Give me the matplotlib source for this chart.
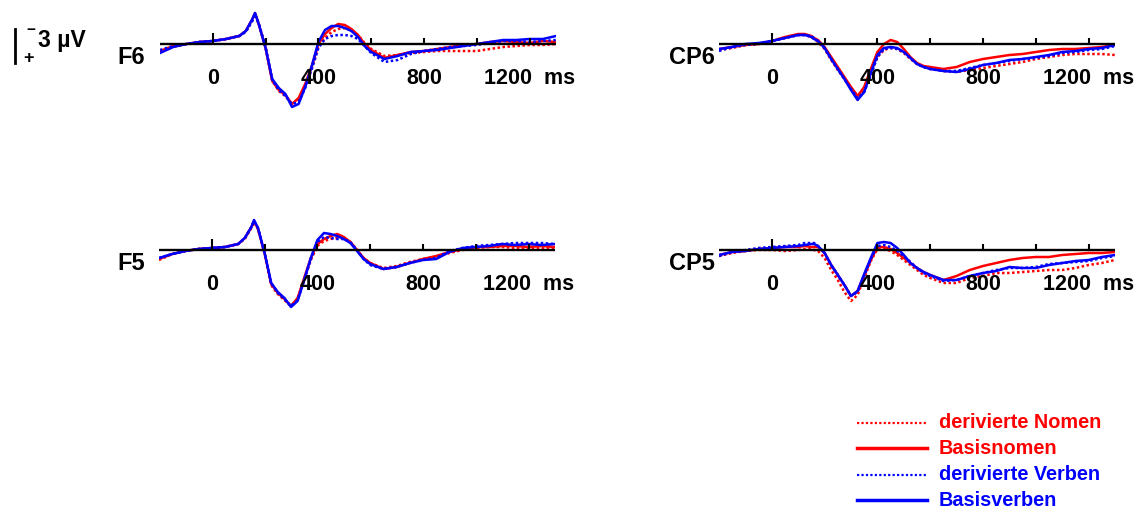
import matplotlib.pyplot as plt
from matplotlib.lines import Line2D

plt.rcParams['font.family'] = ['Liberation Sans', 'DejaVu Sans']

# time grid (ms)
times = [-200, -150, -100, -50, 0, 50, 100, 125, 150, 160, 175, 200, 225, 250, 275,
         300, 325, 350, 375, 400, 425, 450, 475, 500, 525, 550, 575, 600, 650, 700,
         750, 800, 850, 900, 950, 1000, 1050, 1100, 1150, 1200, 1250, 1300]

# amplitudes in microvolts (negative plotted up)
f6_basisnomen = [0.7, 0.2, 0.0, -0.2, -0.3, -0.5, -0.8, -1.3, -2.5, -3.1, -1.9, 0.4, 3.7, 4.6, 5.1,
                 6.0, 5.4, 4.0, 2.2, 0.0, -1.0, -1.6, -2.0, -1.9, -1.5, -0.9, 0.0, 0.6, 1.4, 1.1,
                 0.8, 0.7, 0.5, 0.3, 0.1, 0.0, -0.2, -0.3, -0.2, -0.1, -0.3, -0.2]
f6_der_nomen = [0.8, 0.3, 0.0, -0.2, -0.3, -0.5, -0.8, -1.3, -2.4, -3.0, -1.9, 0.4, 3.6, 4.7, 5.2,
                6.0, 5.6, 4.2, 2.4, 0.3, -0.6, -1.2, -1.5, -1.6, -1.4, -0.9, -0.1, 0.5, 1.2, 1.1,
                0.9, 0.8, 0.7, 0.7, 0.7, 0.7, 0.5, 0.3, 0.2, 0.1, 0.1, 0.0]
f6_der_verben = [0.6, 0.2, 0.0, -0.2, -0.3, -0.5, -0.8, -1.2, -2.3, -3.0, -2.0, 0.3, 3.6, 4.6, 5.2,
                 6.0, 5.8, 4.4, 2.5, 0.4, -0.5, -0.8, -0.9, -0.9, -0.8, -0.5, 0.2, 0.9, 1.8, 1.6,
                 1.0, 0.7, 0.5, 0.3, 0.2, 0.1, -0.1, -0.3, -0.3, -0.2, -0.3, -0.4]
f6_basisverben = [0.9, 0.3, 0.0, -0.2, -0.3, -0.5, -0.8, -1.3, -2.5, -3.1, -1.9, 0.4, 3.5, 4.4, 5.0,
                  6.3, 6.0, 4.3, 2.2, -0.2, -1.4, -1.8, -1.8, -1.6, -1.3, -0.7, 0.2, 0.8, 1.5, 1.2,
                  0.8, 0.7, 0.6, 0.4, 0.2, 0.0, -0.2, -0.4, -0.4, -0.5, -0.5, -0.8]

cp6_basisnomen = [0.5, 0.3, 0.1, 0.0, -0.3, -0.7, -1.0, -1.0, -0.8, -0.6, -0.4, 0.3, 1.3, 2.3, 3.3,
                  4.3, 5.2, 4.3, 2.5, 0.8, 0.0, -0.4, -0.2, 0.5, 1.3, 1.9, 2.2, 2.3, 2.5, 2.3,
                  1.8, 1.5, 1.3, 1.1, 1.0, 0.8, 0.6, 0.5, 0.5, 0.4, 0.3, 0.1]
cp6_der_nomen = [0.6, 0.4, 0.1, 0.0, -0.3, -0.6, -0.9, -0.9, -0.7, -0.5, -0.2, 0.5, 1.6, 2.6, 3.5,
                 4.4, 5.2, 4.6, 3.0, 1.3, 0.6, 0.4, 0.5, 0.9, 1.5, 2.0, 2.3, 2.5, 2.7, 2.8,
                 2.6, 2.4, 2.2, 2.0, 1.8, 1.5, 1.3, 1.1, 1.0, 1.0, 1.0, 1.1]
cp6_der_verben = [0.7, 0.3, 0.1, 0.0, -0.3, -0.6, -0.9, -0.9, -0.8, -0.6, -0.3, 0.4, 1.5, 2.5, 3.5,
                  4.5, 5.4, 4.8, 3.1, 1.3, 0.5, 0.4, 0.5, 0.8, 1.4, 2.0, 2.3, 2.5, 2.7, 2.7,
                  2.4, 2.1, 1.9, 1.7, 1.5, 1.4, 1.2, 0.9, 0.8, 0.6, 0.5, 0.2]
cp6_basisverben = [0.5, 0.3, 0.0, -0.1, -0.3, -0.6, -0.9, -0.9, -0.7, -0.5, -0.3, 0.4, 1.5, 2.5, 3.5,
                   4.6, 5.6, 4.8, 2.9, 1.1, 0.4, 0.3, 0.4, 0.8, 1.4, 2.0, 2.3, 2.5, 2.7, 2.8,
                   2.5, 2.1, 1.9, 1.6, 1.5, 1.3, 1.1, 0.8, 0.7, 0.5, 0.4, 0.1]

f5_basisnomen = [0.9, 0.4, 0.1, -0.1, -0.2, -0.3, -0.6, -1.2, -2.3, -2.9, -2.1, 0.3, 3.4, 4.3, 4.9,
                 5.6, 4.8, 2.8, 0.8, -0.6, -1.1, -1.4, -1.6, -1.3, -0.8, 0.0, 0.8, 1.3, 1.9, 1.7,
                 1.3, 0.9, 0.6, 0.2, -0.1, -0.3, -0.3, -0.4, -0.4, -0.3, -0.4, -0.3]
f5_der_nomen = [1.0, 0.4, 0.1, -0.1, -0.2, -0.3, -0.6, -1.1, -2.2, -2.8, -2.1, 0.4, 3.5, 4.4, 5.0,
                5.6, 4.9, 3.0, 1.0, -0.4, -0.9, -1.1, -1.2, -1.2, -0.8, 0.0, 0.8, 1.3, 1.8, 1.6,
                1.2, 0.9, 0.7, 0.3, 0.0, -0.2, -0.3, -0.3, -0.2, -0.1, -0.2, -0.2]
f5_der_verben = [0.8, 0.4, 0.1, -0.1, -0.2, -0.3, -0.6, -1.2, -2.3, -2.9, -2.2, 0.3, 3.3, 4.3, 4.9,
                 5.6, 5.0, 3.0, 0.9, -0.8, -1.3, -1.2, -1.1, -1.1, -0.8, 0.0, 0.9, 1.5, 1.9, 1.7,
                 1.3, 1.0, 0.8, 0.1, -0.2, -0.4, -0.5, -0.6, -0.7, -0.7, -0.7, -0.6]
f5_basisverben = [0.8, 0.4, 0.1, -0.1, -0.2, -0.3, -0.6, -1.2, -2.3, -3.0, -2.2, 0.3, 3.3, 4.2, 4.8,
                  5.7, 5.1, 3.0, 0.8, -1.0, -1.7, -1.6, -1.4, -1.1, -0.7, 0.1, 0.9, 1.4, 1.9, 1.7,
                  1.3, 1.0, 0.9, 0.2, -0.2, -0.3, -0.4, -0.6, -0.5, -0.6, -0.5, -0.6]

cp5_basisnomen = [0.5, 0.2, 0.1, -0.1, -0.2, -0.3, -0.3, -0.4, -0.3, -0.3, -0.3, 0.3, 1.5, 2.5, 3.5,
                  4.6, 4.1, 2.5, 1.0, -0.3, -0.3, -0.1, 0.3, 0.8, 1.3, 1.8, 2.2, 2.5, 3.0, 2.6,
                  2.0, 1.6, 1.3, 1.0, 0.8, 0.7, 0.7, 0.5, 0.4, 0.3, 0.3, 0.2]
cp5_der_nomen = [0.6, 0.3, 0.1, 0.0, 0.0, 0.1, 0.0, -0.1, -0.1, 0.0, 0.1, 0.8, 2.0, 3.0, 4.2,
                 5.1, 4.5, 2.8, 1.1, -0.1, -0.1, 0.1, 0.5, 1.0, 1.5, 2.0, 2.5, 2.8, 3.3, 3.3,
                 2.8, 2.6, 2.3, 2.3, 2.2, 2.1, 2.0, 2.0, 1.8, 1.5, 1.3, 1.0]
cp5_der_verben = [0.6, 0.2, 0.0, -0.2, -0.3, -0.4, -0.5, -0.7, -0.7, -0.7, -0.4, 0.3, 1.5, 2.5, 3.5,
                  4.6, 4.2, 2.6, 0.9, -0.4, -0.5, -0.3, 0.1, 0.6, 1.2, 1.8, 2.3, 2.6, 3.1, 3.0,
                  2.6, 2.3, 2.0, 1.8, 1.8, 1.7, 1.4, 1.3, 1.2, 1.1, 0.8, 0.6]
cp5_basisverben = [0.5, 0.2, 0.1, -0.1, -0.2, -0.3, -0.4, -0.5, -0.6, -0.6, -0.4, 0.3, 1.5, 2.5, 3.5,
                   4.6, 4.1, 2.4, 0.8, -0.7, -0.8, -0.7, -0.2, 0.5, 1.3, 1.8, 2.2, 2.5, 3.0, 3.0,
                   2.6, 2.3, 2.1, 1.7, 1.8, 1.8, 1.5, 1.3, 1.1, 1.0, 0.7, 0.5]

channels = ['F6', 'CP6', 'F5', 'CP5']
channel_data = {
    'F6': [f6_der_nomen, f6_basisnomen, f6_der_verben, f6_basisverben],
    'CP6': [cp6_der_nomen, cp6_basisnomen, cp6_der_verben, cp6_basisverben],
    'F5': [f5_der_nomen, f5_basisnomen, f5_der_verben, f5_basisverben],
    'CP5': [cp5_der_nomen, cp5_basisnomen, cp5_der_verben, cp5_basisverben],
}
conditions = ['derivierte Nomen', 'Basisnomen', 'derivierte Verben', 'Basisverben']
cond_colors = ['#ff0000', '#ff0000', '#0000ff', '#0000ff']
cond_styles = [(0, (1, 1)), '-', (0, (1, 1)), '-']
draw_order = [0, 2, 3, 1]

tick_times = [0, 200, 400, 600, 800, 1000, 1200]
tick_labels = {0: '0', 400: '400', 800: '800', 1200: '1200  ms'}

W, H = 1140, 513
fig = plt.figure(figsize=(W / 100, H / 100), dpi=100)

# panel placement in pixels: left x, axis-line y, label right x
panel_pos = {'F6': (160, 44, 145), 'CP6': (719, 44, 715),
             'F5': (159, 250, 145), 'CP5': (719, 250, 715)}
px_w = 396
ms_per_px = 1500 / px_w

for ch in channels:
    x0, y_axis, lab_x = panel_pos[ch]
    top_px, bot_px = y_axis - 44, y_axis + 76
    ax = fig.add_axes([x0 / W, 1 - bot_px / H, px_w / W, (bot_px - top_px) / H])
    ax.set_xlim(-200, 1300)
    ax.set_ylim(7.6, -4.4)
    ax.axis('off')
    for i in draw_order:
        ax.plot(times, channel_data[ch][i], color=cond_colors[i], linestyle=cond_styles[i],
                lw=1.8, zorder=2 + i * 0.1)
    ax.axhline(0, color='black', lw=1.7, zorder=5)
    heights = [-1.1 if t == 0 else -0.6 for t in tick_times]
    ax.vlines(tick_times, 0, heights, color='black', lw=1.5, zorder=5)
    for t, lab in tick_labels.items():
        ax.text(t, 3.4, lab, ha='center', va='center', fontsize=15.5, fontweight='bold')
    lab_t = -200 - (x0 - lab_x) * ms_per_px
    ax.text(lab_t, 1.3, ch, ha='right', va='center', fontsize=17, fontweight='bold',
            clip_on=False)

# scale bar
fig.add_artist(Line2D([15 / W, 15 / W], [1 - 29 / H, 1 - 63 / H], color='black', lw=2))
fig.text(31 / W, 1 - 30 / H, '−', ha='center', va='center', fontsize=11, fontweight='bold')
fig.text(29 / W, 1 - 58 / H, '+', ha='center', va='center', fontsize=13, fontweight='bold')
fig.text(38 / W, 1 - 41 / H, '3 µV', ha='left', va='center', fontsize=16.5, fontweight='bold')

# legend
legend_y = [423, 448, 475, 500]
for i, cond in enumerate(conditions):
    yy = 1 - legend_y[i] / H
    lw = 1.6 if cond_styles[i] != '-' else 2.5
    fig.add_artist(Line2D([857 / W, 927 / W], [yy, yy], color=cond_colors[i],
                          linestyle=cond_styles[i], lw=lw))
    fig.text(939 / W, yy, cond, ha='left', va='center', fontsize=14.3,
             fontweight='bold', color=cond_colors[i])

fig.savefig('out.png', dpi=100)
